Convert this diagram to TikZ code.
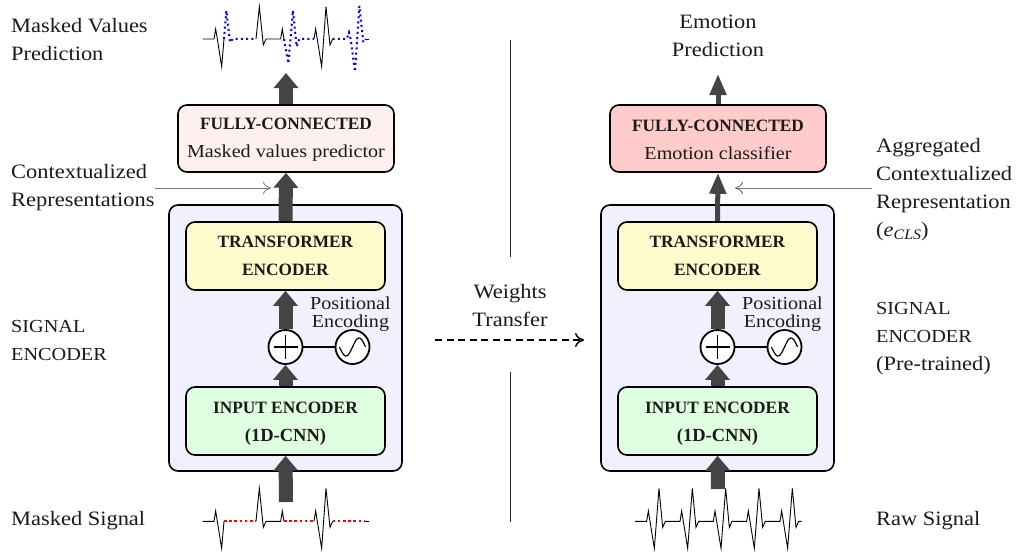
\documentclass[tikz,border=0pt]{standalone}
\usepackage{fontspec}
\setmainfont{Liberation Serif}[FakeStretch=1.1,BoldFeatures={FakeStretch=1.0}]
\usetikzlibrary{arrows.meta,positioning}
\definecolor{panelc}{HTML}{F0F0FF}
\definecolor{yellowc}{HTML}{FFFBCC}
\definecolor{greenc}{HTML}{E0FFE0}
\definecolor{fcpale}{HTML}{FFF0F0}
\definecolor{fcred}{HTML}{FFCCCC}
\definecolor{arrowc}{HTML}{444444}
\definecolor{txtc}{HTML}{1A1A1A}
\definecolor{ptrc}{HTML}{777777}
\tikzset{
  x=1pt,y=-1pt,
  every node/.style={text=txtc},
  lab/.style={font=\fontsize{20.4}{28}\selectfont,anchor=west,inner sep=0pt,align=left},
  labcaps/.style={lab,font=\fontsize{18.4}{28}\selectfont},
  labc/.style={font=\fontsize{20.4}{28}\selectfont,inner sep=0pt,align=center},
  panelbox/.style={draw=black,line width=1.6pt,rounded corners=9pt,fill=panelc,minimum width=233pt,minimum height=266pt,inner sep=0pt},
  blockbox/.style={draw=black,line width=1.6pt,rounded corners=9pt,minimum width=199pt,minimum height=68pt,inner sep=0pt,align=center,font=\fontsize{18.3}{28}\selectfont},
  fcbox/.style={blockbox,minimum width=216pt,minimum height=67pt},
  opcirc/.style={circle,draw=black,line width=1.8pt,fill=white,minimum size=34pt,inner sep=0pt},
  posenc/.style={font=\fontsize{18.3}{18.5}\selectfont,inner sep=0pt,align=center},
  thick arr/.style={draw=arrowc,line width=14pt,-{Triangle[width=24pt,length=15pt]},shorten >=0pt},
  thin arr/.style={draw=arrowc,line width=5pt,-{Triangle[width=16pt,length=21pt]}},
  ptr/.style={draw=ptrc,line width=1pt,-{To[width=12pt,length=8pt]}},
  ecg/.style={draw=black,line width=0.9pt,line join=miter},
  maskblue/.style={draw=blue,line width=2pt,dash pattern=on 2pt off 3.2pt},
  maskred/.style={draw=red,line width=2.2pt,dash pattern=on 2.6pt off 2.6pt},
}
\newcommand{\blockhead}[1]{{\fontsize{17.3}{28}\selectfont\textbf{#1}}}
% #1 prefix, #2 centre x
\newcommand{\encoderblock}[2]{
  \node[panelbox] (#1panel) at (#2,338) {};
  \node[blockbox,fill=yellowc] (#1trans) at (#2,256) {\blockhead{TRANSFORMER}\\\blockhead{ENCODER}};
  \node[blockbox,fill=greenc] (#1input) at (#2,421) {\rule{0pt}{16pt}\blockhead{INPUT ENCODER}\\{\fontsize{18.5}{28}\selectfont\textbf{(1D-CNN)}}};
  \node[opcirc] (#1plus) at (#2,347) {};
  \node[opcirc] (#1sine) at ({#2+67},347) {};
  \draw[line width=1.6pt] (#1plus) -- (#1sine);
  \draw[line width=1.2pt] (#1plus.center) ++(-12,0) -- ++(24,0);
  \draw[line width=1.2pt] (#1plus.center) ++(0,-12) -- ++(0,24);
  \draw[line width=1.2pt,domain=-13:13,samples=40,smooth] plot ({#2+67+\x},{347-9*sin(\x*13.8)});
  \node[posenc] (#1pos) at ({#2+65},314) {Positional\\[-1pt]Encoding};
  \draw[thick arr] (#1plus.north) -- (#1trans.south);
  \draw[thick arr] (#1input.north) -- (#1plus.south);
}
\begin{document}
\begin{tikzpicture}
\useasboundingbox (0,0) rectangle (1019,552);
% left column
\encoderblock{l}{285.5}
\node[fcbox,fill=fcpale] (lfc) at (286,138.5) {\rule{0pt}{14pt}\blockhead{FULLY-CONNECTED}\\Masked values predictor};
\coordinate (lout) at (286,73);
\coordinate (lin) at (286,502);
\draw[thick arr] (lfc.north) -- (lout);
\draw[thick arr] (ltrans.north) -- (lfc.south);
\draw[thick arr] (lin) -- (linput.south);
% right column
\encoderblock{r}{717.5}
\node[fcbox,fill=fcred] (rfc) at (718,138.5) {\rule{0pt}{14pt}\blockhead{FULLY-CONNECTED}\\Emotion classifier};
\coordinate (rout) at (718,74);
\coordinate (rin) at (718,489);
\draw[thin arr] (rfc.north) -- (rout);
\draw[thin arr] (rtrans.north) -- (rfc.south);
\draw[thick arr] (rin) -- (rinput.south);
% labels
\node[lab] (t1) at (11,40) {Masked Values\\Prediction};
\node[lab] (t2) at (11,188) {Contextualized\\Representations};
\node[labcaps] (t3) at (11,340) {SIGNAL\\ENCODER};
\node[lab] (t4) at (11,521) {Masked Signal};
\node[labc] (t5) at (718,36) {Emotion\\Prediction};
\node[lab] (t6) at (876,190) {Aggregated\\Contextualized\\Representation\\({\itshape e}\raisebox{-3pt}{\fontsize{14.5}{14}\selectfont\itshape CLS})};
\node[lab] (t7) at (876,339) {\fontsize{18.4}{28}\selectfont SIGNAL\\\fontsize{18.4}{28}\selectfont ENCODER\\(Pre-trained)};
\node[lab] (t8) at (876,521) {Raw Signal};
\node[labc] (t9) at (510,306) {Weights\\Transfer};
% pointers
\coordinate (pl1) at (155,188);
\coordinate (pl2) at (271,188);
\coordinate (pr1) at (872,188);
\coordinate (pr2) at (735,188);
\draw[ptr,line width=0.8pt] (pl1) -- (pl2);
\draw[ptr] (pr1) -- (pr2);
% divider
\coordinate (d1) at (510.5,40);
\coordinate (d2) at (510.5,257);
\coordinate (d3) at (510.5,372);
\coordinate (d4) at (510.5,522);
\draw[line width=0.8pt,black!85] (d1) -- (d2);
\draw[line width=0.8pt,black!85] (d3) -- (d4);
% transfer
\coordinate (w1) at (435,340);
\coordinate (w2) at (584,340);
\draw[line width=1.5pt,black,dash pattern=on 7pt off 4.5pt,-{To[width=14pt,length=9pt]}] (w1) -- (w2);
% top signal
\begin{scope}[shift={(190,0)},x=0.3333pt,y=-0.3333pt]
\draw[ecg] (38,117)--(72,117)--(77,87)--(82,117)--(95,200)--(102,117);
\draw[ecg] (198,117)--(208,20)--(220,135)--(228,117)--(272,117)--(277,87)--(282,117);
\draw[ecg] (372,117)--(377,87)--(395,200)--(408,20)--(420,135)--(428,117);
\draw[ecg] (528,117)--(537,117);
\draw[maskblue] (102,117)--(109,32)--(120,127)--(128,117)--(198,117);
\draw[maskblue] (282,117)--(295,190)--(309,32)--(320,140)--(328,117)--(372,117);
\draw[maskblue] (428,117)--(470,117)--(477,97)--(482,117)--(495,215)--(508,18)--(520,127)--(528,117);
\end{scope}
% bottom left signal
\begin{scope}[shift={(190,450)},x=0.3333pt,y=-0.3333pt]
\draw[ecg] (38,214)--(72,214)--(77,183)--(82,214)--(95,295)--(102,214);
\draw[ecg] (198,214)--(208,115)--(220,232)--(228,214)--(272,214)--(277,183)--(282,214);
\draw[ecg] (372,214)--(377,183)--(395,295)--(408,115)--(420,232)--(428,214);
\draw[ecg] (525,214)--(537,214);
\draw[maskred] (102,214)--(198,214);
\draw[maskred] (282,214)--(372,214);
\draw[maskred] (428,214)--(525,214);
\end{scope}
% bottom right signal
\begin{scope}[shift={(620,450)},x=0.3333pt,y=-0.3333pt]
\draw[ecg] (45,214)--(80,214)
  --(85,183)--(90,214)--(103,295)--(117,115)--(128,232)--(136,214)--(180,214)
  --(185,183)--(190,214)--(203,295)--(217,115)--(228,232)--(236,214)--(280,214)
  --(285,183)--(290,214)--(303,295)--(317,115)--(328,232)--(336,214)--(380,214)
  --(385,183)--(390,214)--(403,295)--(417,115)--(428,232)--(436,214)--(480,214)
  --(485,183)--(490,214)--(503,295)--(517,115)--(528,232)--(536,214)--(545,214);
\end{scope}
\end{tikzpicture}
\end{document}
